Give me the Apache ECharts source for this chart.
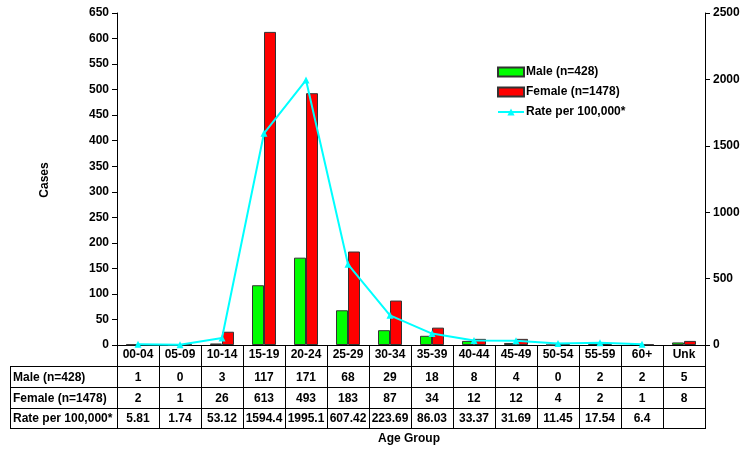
<!DOCTYPE html>
<html><head><meta charset="utf-8">
<script src="https://cdn.jsdelivr.net/npm/echarts@6/dist/echarts.min.js"></script>
<style>html,body{margin:0;padding:0;background:#fff}#c{width:743px;height:452px}</style>
</head><body><div id="c"></div>
<script>
var categories = ['00-04','05-09','10-14','15-19','20-24','25-29','30-34','35-39','40-44','45-49','50-54','55-59','60+','Unk'];
var male = [1,0,3,117,171,68,29,18,8,4,0,2,2,5];
var female = [2,1,26,613,493,183,87,34,12,12,4,2,1,8];
var rate = [5.81,1.74,53.12,1594.4,1995.1,607.42,223.69,86.03,33.37,31.69,11.45,17.54,6.4,null];
var rateLabels = ['5.81','1.74','53.12','1594.4','1995.1','607.42','223.69','86.03','33.37','31.69','11.45','17.54','6.4',''];
var rowNames = ['Male (n=428)','Female (n=1478)','Rate per 100,000*'];

var FONT = '"Liberation Sans", Arial, sans-serif';
var G = {left:117, right:38, top:13, bottom:107};
var W = 743, H = 452;
var chart = echarts.init(document.getElementById('c'), null, {renderer:'canvas'});

var txt = {fontFamily:FONT, fontWeight:'bold', fontSize:12, color:'#000'};
var F = 'bold 12px ' + FONT;

function buildGraphic(){
  var g = [];
  var x0 = G.left, x1 = W - G.right;
  var n = categories.length;
  var bw = (x1 - x0) / n;
  var yAxis = H - G.bottom;           // 345
  var rowH = [21, 21, 21, 20];
  var ys = [yAxis];
  for (var i=0;i<rowH.length;i++) ys.push(ys[i]+rowH[i]);
  var labelLeft = 10;
  var ls = {stroke:'#000', lineWidth:1};
  for (var h=1;h<=4;h++){
    g.push({type:'line', shape:{x1:labelLeft,y1:ys[h]+0.5,x2:x1+1,y2:ys[h]+0.5}, style:ls, silent:true});
  }
  for (var k=0;k<=n;k++){
    var xx = Math.round(x0 + k*bw) + 0.5;
    g.push({type:'line', shape:{x1:xx,y1:yAxis,x2:xx,y2:ys[4]+0.5}, style:ls, silent:true});
  }
  g.push({type:'line', shape:{x1:labelLeft+0.5,y1:ys[1],x2:labelLeft+0.5,y2:ys[4]+0.5}, style:ls, silent:true});
  var rows = [male.map(String), female.map(String), rateLabels];
  for (var r=0;r<3;r++){
    var cy = (ys[r+1]+ys[r+2])/2 + 1;
    g.push({type:'text', x:labelLeft+3, y:cy, style:{text:rowNames[r], align:'left', verticalAlign:'middle', fill:'#000', font:F}, silent:true});
    for (var c=0;c<n;c++){
      var cx = chart.convertToPixel({xAxisIndex:0}, c);
      g.push({type:'text', x:cx, y:cy, style:{text:rows[r][c], align:'center', verticalAlign:'middle', fill:'#000', font:F}, silent:true});
    }
  }
  g.push({type:'text', x:409, y:439, style:{text:'Age Group', align:'center', verticalAlign:'middle', fill:'#000', font:F}, silent:true});
  g.push({type:'text', x:45, y:180, rotation:Math.PI/2, style:{text:'Cases', align:'center', verticalAlign:'middle', fill:'#000', font:F}, silent:true});
  return g;
}

var option = {
  animation:false,
  backgroundColor:'#fff',
  grid:{left:G.left, right:G.right, top:G.top, bottom:G.bottom, containLabel:false},
  legend:{
    orient:'vertical', left:497, top:66, padding:0, itemWidth:26, itemHeight:9, itemGap:8,
    textStyle:{fontFamily:FONT, fontWeight:'bold', fontSize:12, color:'#000', padding:[0,0,0,-3]},
    data:[{name:'Male (n=428)', icon:'rect'},{name:'Female (n=1478)', icon:'rect'},{name:'Rate per 100,000*'}]
  },
  xAxis:{
    type:'category', data:categories,
    axisLine:{lineStyle:{color:'#000', width:1}},
    axisTick:{show:false},
    axisLabel:Object.assign({interval:0, margin:4}, txt)
  },
  yAxis:[
    {type:'value', min:0, max:650, interval:50,
      axisLine:{show:true, lineStyle:{color:'#000'}},
      axisTick:{show:true, length:5, lineStyle:{color:'#000'}},
      splitLine:{show:false},
      axisLabel:Object.assign({margin:8}, txt)},
    {type:'value', min:0, max:2500, interval:500, position:'right',
      axisLine:{show:true, lineStyle:{color:'#000'}},
      axisTick:{show:true, length:5, lineStyle:{color:'#000'}},
      splitLine:{show:false},
      axisLabel:Object.assign({margin:8, formatter:function(v){return String(v);}}, txt)}
  ],
  series:[
    {name:'Male (n=428)', type:'bar', data:male, barWidth:12, barGap:'0%',
      itemStyle:{color:'#00FF00', borderColor:'#333', borderWidth:1}},
    {name:'Female (n=1478)', type:'bar', data:female, barWidth:12, barGap:'0%',
      itemStyle:{color:'#FF0000', borderColor:'#333', borderWidth:1}},
    {name:'Rate per 100,000*', type:'line', yAxisIndex:1, data:rate,
      symbol:'triangle', symbolSize:7, showAllSymbol:true, connectNulls:false,
      lineStyle:{color:'#00FFFF', width:2}, itemStyle:{color:'#00FFFF'}}
  ]
};
chart.setOption(option);
chart.setOption({graphic:buildGraphic()});
</script></body></html>
